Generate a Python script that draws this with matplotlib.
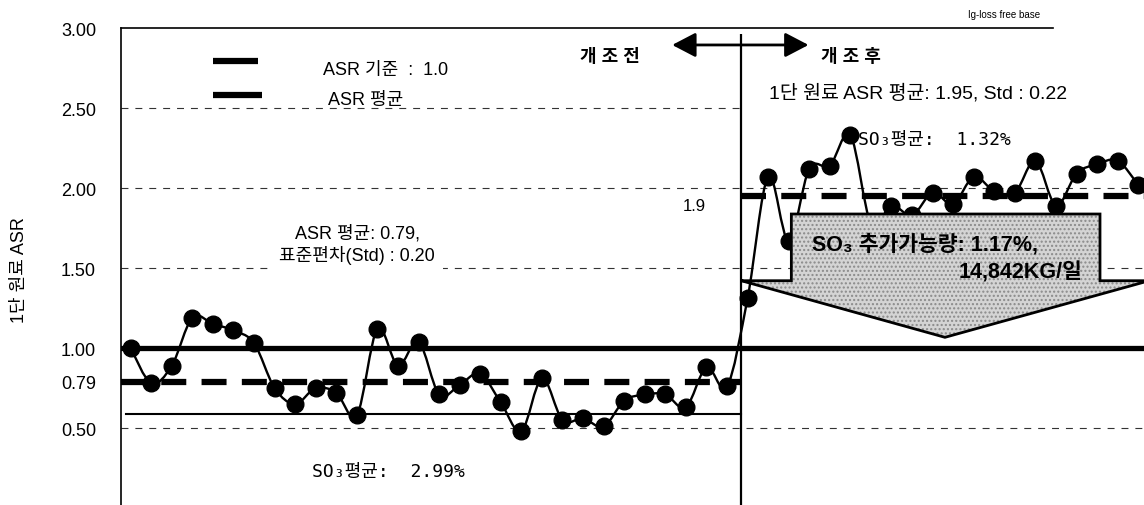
import numpy as np
import matplotlib
matplotlib.use("Agg")
from matplotlib import pyplot as plt
from matplotlib.path import Path
from matplotlib.patches import PathPatch, Polygon, FancyArrowPatch

plt.rcParams["font.family"] = ["Liberation Sans", "Noto Sans CJK KR", "DejaVu Sans"]
plt.rcParams["lines.scale_dashes"] = False

# 1st stage raw meal ASR, daily values before / after the modification
asr_before = [1.00, 0.78, 0.89, 1.19, 1.15, 1.11, 1.03, 0.75, 0.65, 0.75,
              0.72, 0.58, 1.12, 0.89, 1.04, 0.71, 0.77, 0.84, 0.66, 0.48,
              0.81, 0.55, 0.56, 0.51, 0.67, 0.71, 0.71, 0.63, 0.88, 0.76]
asr_after = [1.31, 2.07, 1.67, 2.12, 2.14, 2.33, 1.78, 1.89, 1.83, 1.97,
             1.90, 2.07, 1.98, 1.97, 2.17, 1.89, 2.09, 2.15, 2.17, 2.02]

asr_target = 1.0
before_mean, before_std = 0.79, 0.20
after_mean, after_std = 1.95, 0.22
split_pos = 29.7

yticks = [0.50, 0.79, 1.00, 1.50, 2.00, 2.50, 3.00]
grid_full = [0.5, 1.5, 2.0]
grid_left = [2.5]

asr = np.array(asr_before + asr_after)
x = np.arange(len(asr))
xmin, xmax = -0.47, 49.28


def smooth_path(xs, ys):
    """Catmull-Rom style smoothed line through the points, as cubic bezier."""
    pts = np.column_stack([xs, ys])
    verts = [pts[0]]
    codes = [Path.MOVETO]
    n = len(pts)
    for i in range(n - 1):
        p0 = pts[i - 1] if i > 0 else pts[i]
        p1, p2 = pts[i], pts[i + 1]
        p3 = pts[i + 2] if i + 2 < n else pts[i + 1]
        verts += [p1 + (p2 - p0) / 6.0, p2 - (p3 - p1) / 6.0, p2]
        codes += [Path.CURVE4] * 3
    return Path(verts, codes)


fig = plt.figure(figsize=(11.44, 5.06), dpi=100)
ax = fig.add_axes([121 / 1144, 0, 1023 / 1144, 477 / 506])
ax.set_xlim(xmin, xmax)
ax.set_ylim(0.019, 3.0)

# grid
for g in grid_full:
    ax.plot([xmin, xmax], [g, g], color="#333333", lw=0.8, dashes=(5, 5), zorder=1)
for g in grid_left:
    ax.plot([xmin, split_pos], [g, g], color="#333333", lw=0.8, dashes=(5, 5), zorder=1)

# ASR target, means and -1 std line
ax.axhline(asr_target, color="black", lw=3.8, zorder=2)
ax.plot([xmin, split_pos], [before_mean, before_mean], color="black", lw=4.5,
        dashes=(18, 11), solid_capstyle="butt", zorder=2)
ax.plot([split_pos, xmax], [after_mean, after_mean], color="black", lw=4.5,
        dashes=(18, 11), zorder=2)
ax.plot([-0.23, split_pos], [before_mean - before_std] * 2, color="black", lw=1.5, zorder=2)

# data
ax.add_patch(PathPatch(smooth_path(x, asr), facecolor="none", edgecolor="black",
                       lw=1.7, zorder=4))
ax.plot(x, asr, "o", color="black", ms=12, zorder=5)

# before / after split
ax.vlines(split_pos, 0, 2.965, color="black", lw=1.6, zorder=6)
ax.add_patch(FancyArrowPatch((26.2, 2.894), (33.1, 2.894),
                             arrowstyle="<|-|>,head_length=0.9,head_width=0.47",
                             mutation_scale=16, lw=2, color="black", zorder=6))
ax.text(0.478, 0.941, "개 조 전", transform=ax.transAxes, ha="center", va="center",
        fontsize=13, fontweight="bold")
ax.text(0.714, 0.941, "개 조 후", transform=ax.transAxes, ha="center", va="center",
        fontsize=13, fontweight="bold")

# callout arrow with the additional SO3 amount (stippled fill + outline)
callout = [(29.70, 1.4206), (32.13, 1.4206), (32.13, 1.8375), (47.14, 1.8375),
           (47.14, 1.4206), (49.53, 1.4206), (39.60, 1.0669)]
ax.add_patch(Polygon(callout, closed=True, facecolor="#d4d4d4", edgecolor="#8a8a8a",
                     hatch="....", lw=0, zorder=7, clip_on=False))
ax.add_patch(Polygon(callout, closed=True, facecolor="none", edgecolor="black",
                     lw=2, zorder=7, clip_on=False))
ax.text(0.675, 0.547, "SO₃ 추가가능량: 1.17%,", transform=ax.transAxes,
        ha="left", va="center", fontsize=15.5, fontweight="bold", zorder=8)
ax.text(0.940, 0.488, "14,842KG/일", transform=ax.transAxes,
        ha="right", va="center", fontsize=15.5, fontweight="bold", zorder=8)

# legend
ax.plot([0.0899, 0.134], [0.931, 0.931], transform=ax.transAxes, color="black", lw=4.5,
        solid_capstyle="butt")
ax.plot([0.0899, 0.138], [0.860, 0.860], transform=ax.transAxes, color="black", lw=4.5,
        solid_capstyle="butt")
ax.text(0.197, 0.912, "ASR 기준  :  1.0", transform=ax.transAxes, ha="left",
        va="center", fontsize=13)
ax.text(0.202, 0.851, "ASR 평균", transform=ax.transAxes, ha="left", va="center",
        fontsize=13)

# statistics
ax.text(0.231, 0.547, "ASR 평균: 0.79,\n표준편차(Std) : 0.20", transform=ax.transAxes,
        ha="center", va="center", fontsize=13, linespacing=1.25, zorder=3,
        bbox=dict(facecolor="white", edgecolor="none", pad=6))
ax.text(0.633, 0.866, "1단 원료 ASR 평균: 1.95, Std : 0.22", transform=ax.transAxes,
        ha="left", va="center", fontsize=14)
mono = ["DejaVu Sans Mono", "Noto Sans CJK KR"]
ax.text(0.187, 0.071, "SO₃평균:  2.99%", transform=ax.transAxes, ha="left",
        va="center", fontsize=13, family=mono)
ax.text(0.720, 0.767, "SO₃평균:  1.32%", transform=ax.transAxes, ha="left",
        va="center", fontsize=13, family=mono, zorder=6)
ax.text(27.98, 1.89, "1.9", ha="right", va="center", fontsize=12)

# axes styling
for side in ["top", "right", "bottom"]:
    ax.spines[side].set_visible(False)
ax.spines["left"].set_linewidth(1.2)
ax.plot([0, 0.911], [1, 1], transform=ax.transAxes, color="black", lw=1.2, clip_on=False)
ax.set_xticks([])
ax.set_yticks(yticks)
ax.set_yticklabels(["{:.2f}".format(t) for t in yticks], fontsize=13)
ax.tick_params(axis="y", length=0, pad=18)

fig.text(20 / 1144, 1 - 270 / 506, "1단 원료 ASR", rotation=90, ha="center",
         va="center", fontsize=13)
fig.text(968 / 1144, 1 - 15 / 506, "Ig-loss free base", ha="left", va="center",
         fontsize=7)

fig.savefig("out.png", dpi=100, facecolor="white")
